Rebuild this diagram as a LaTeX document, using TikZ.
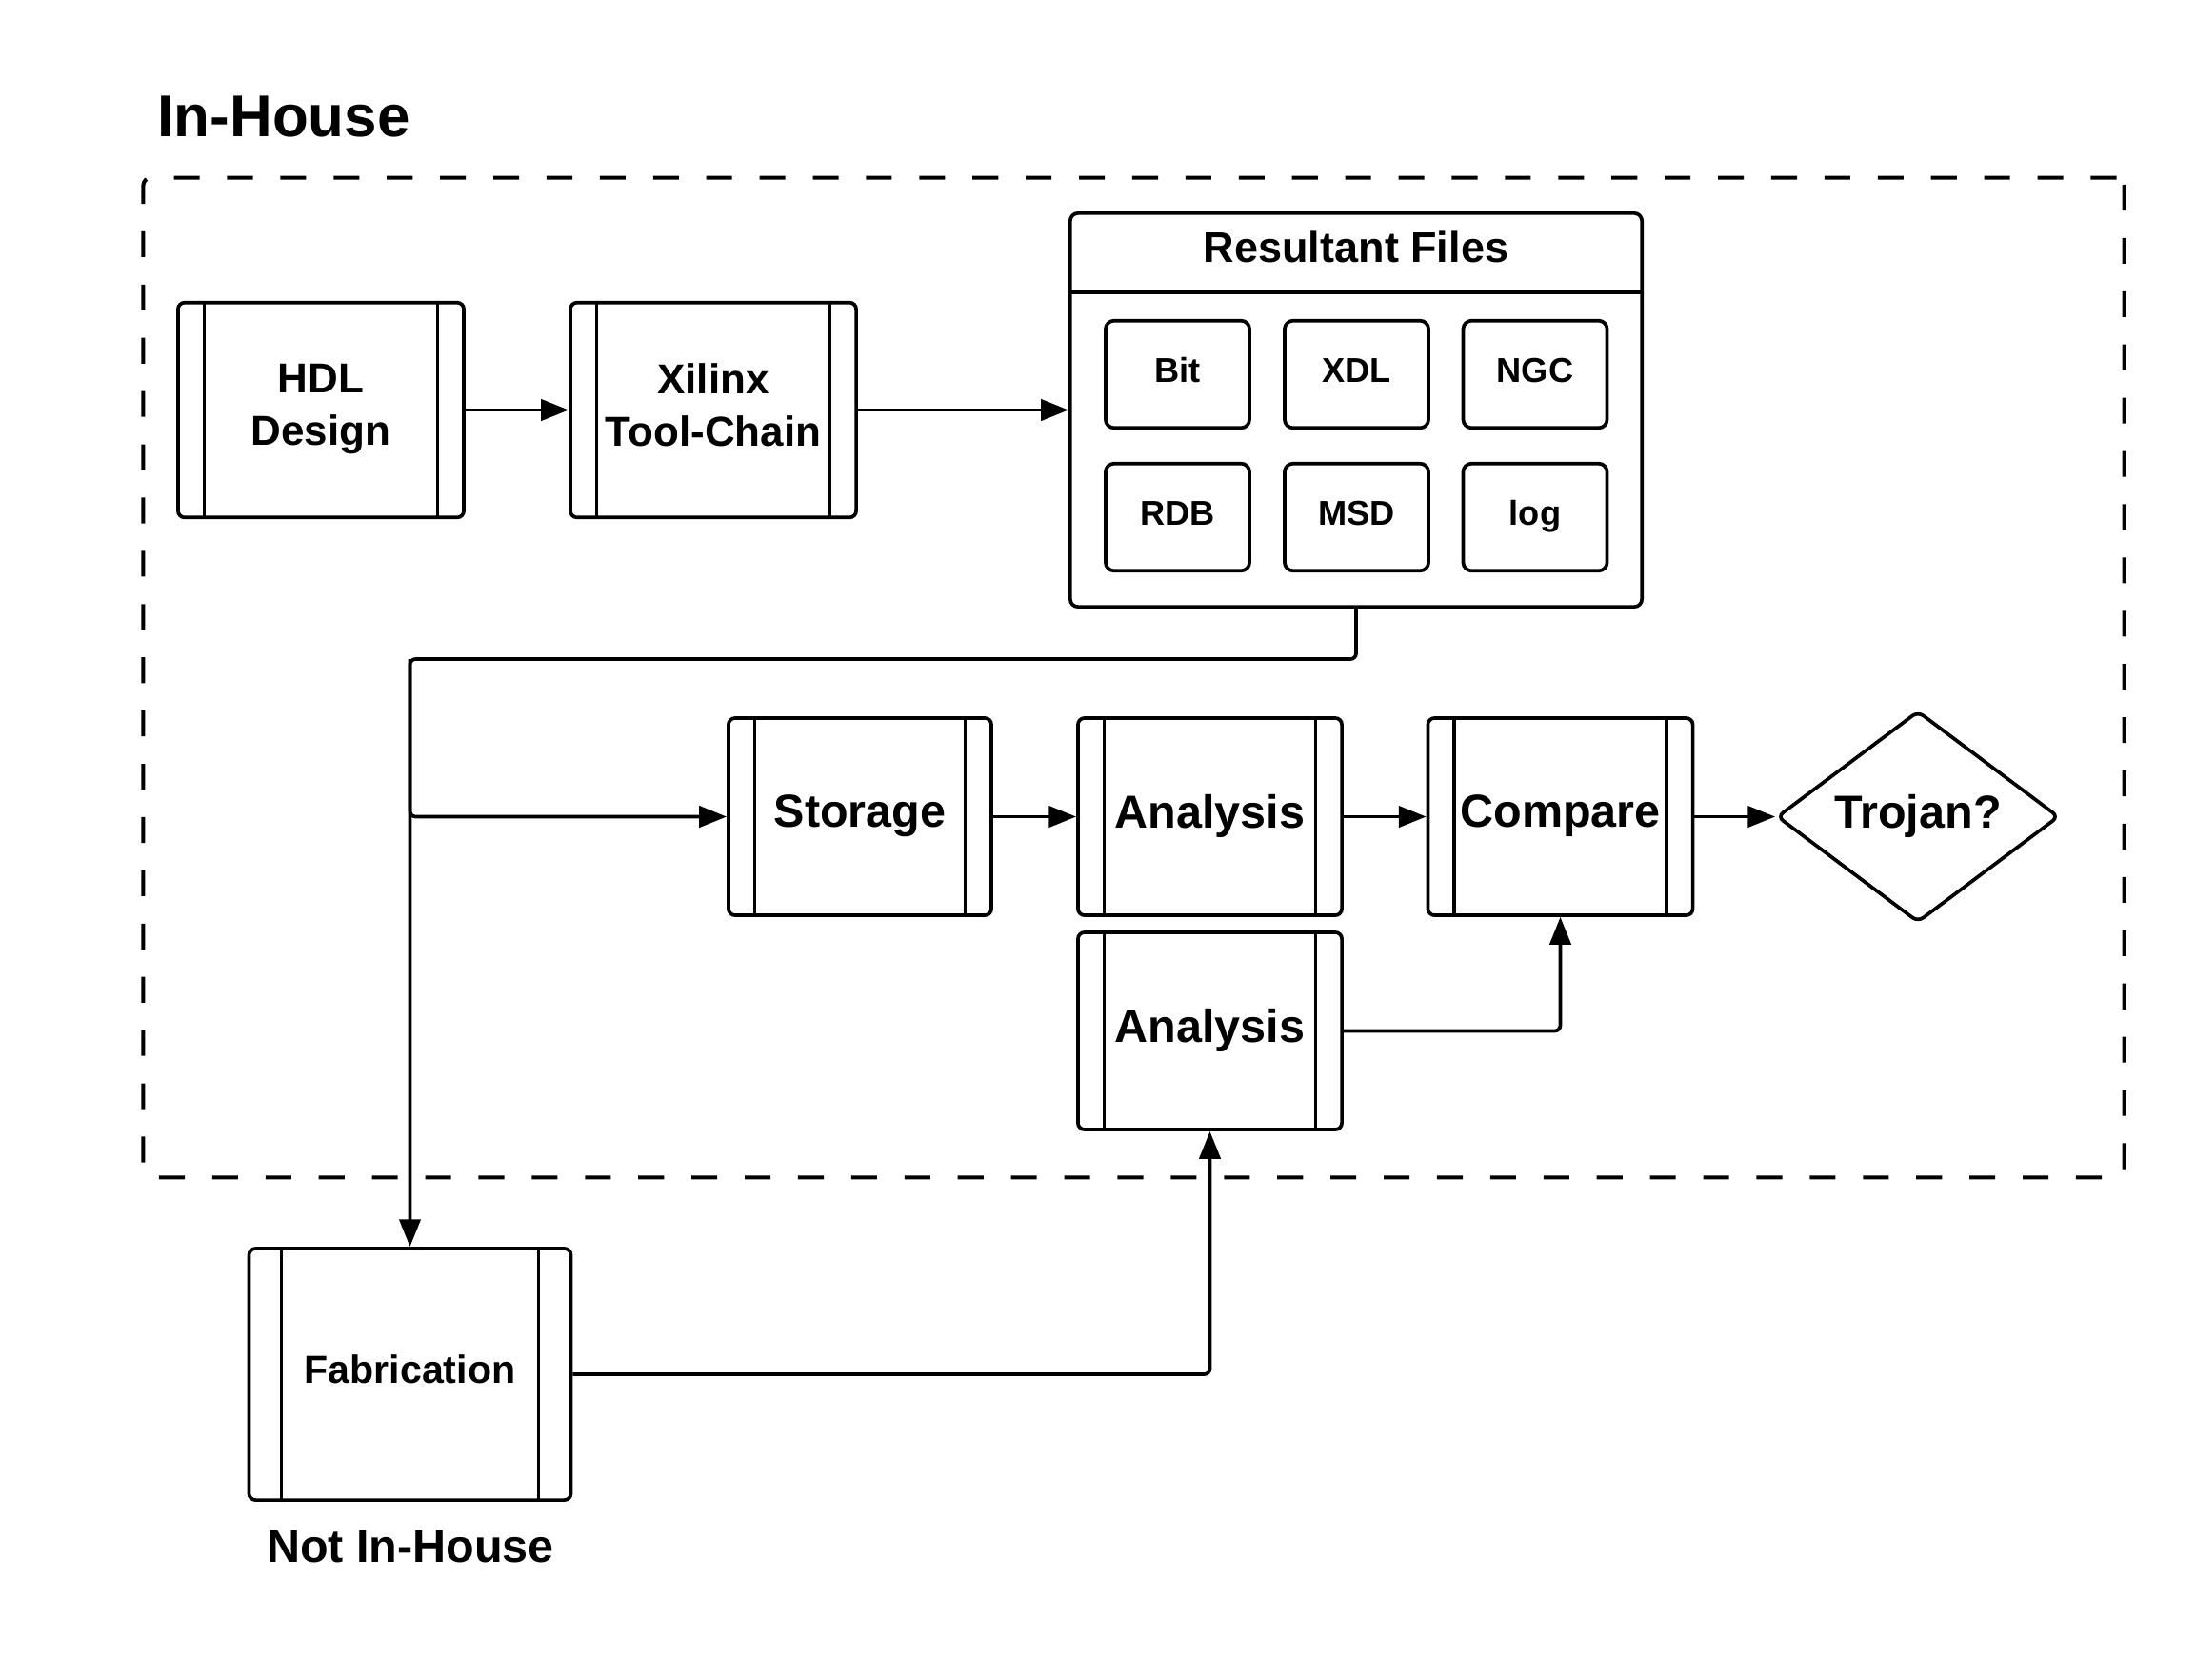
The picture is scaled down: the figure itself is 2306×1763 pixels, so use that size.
\documentclass[tikz,border=0pt]{standalone}
\usepackage{fontspec}
\setmainfont{Liberation Sans}
\usetikzlibrary{arrows.meta,shapes.geometric,calc}
\begin{document}
\begin{tikzpicture}[x=0.01cm,y=-0.01cm,
  ln/.style={line width=1.05pt},
  arr/.style={ln, -{Triangle[length=8.2pt,width=6.3pt]}},
  elbow/.style={arr, rounded corners=1.7pt},
  proc/.style={draw, ln, rounded corners=2pt, inner sep=0pt, align=center,
    path picture={\draw[ln]
      ([xshift=#1]path picture bounding box.north west) -- ([xshift=#1]path picture bounding box.south west)
      ([xshift=-#1]path picture bounding box.north east) -- ([xshift=-#1]path picture bounding box.south east);}},
  proc/.default=0.275cm,
  bigtxt/.style={font=\bfseries\fontsize{13.8}{16.5}\selectfont, text depth=0.33em},
  medtxt/.style={font=\bfseries\fontsize{12.5}{15.6}\selectfont, text depth=0.3em},
  filebox/.style={draw, ln, rounded corners=2.5pt, inner sep=0pt,
    minimum width=1.51cm, minimum height=1.125cm,
    font=\bfseries\fontsize{10.3}{12}\selectfont, text height=0.72em, text depth=0.25em},
  frame/.style={draw, line width=1.15pt, dash pattern=on 7.7pt off 8.2pt,
    rounded corners=2.3pt, inner sep=0pt}
]
\fill[white] (0,0) rectangle (2306,1763);
\useasboundingbox (0,0) rectangle (2306,1763);

% titles
\node[anchor=base west, inner sep=0pt, font=\bfseries\fontsize{17.6}{20}\selectfont] (inhouse) at (165,143) {In-House};
\node[frame, minimum width=20.79cm, minimum height=10.49cm] (house) at (1190.5,711.5) {};

% top row
\node[proc, medtxt, minimum width=3.00cm, minimum height=2.255cm] (hdl) at (337,430.5) {HDL\\Design};
\node[proc, medtxt, minimum width=3.00cm, minimum height=2.255cm] (xil) at (749,430.5) {Xilinx\\Tool-Chain};

% resultant files container
\node[draw, ln, rounded corners=2.3pt, inner sep=0pt, minimum width=6.00cm, minimum height=4.13cm] (res) at (1424,430.5) {};
\coordinate (hdr) at (1424,307);
\draw[ln] (res.west |- hdr) -- (res.east |- hdr);
\node[font=\bfseries\fontsize{12.8}{15}\selectfont] (restitle) at (1424,259) {Resultant Files};
\node[filebox] (bit) at (1236.5,393) {Bit};
\node[filebox] (xdl) at (1424.5,393) {XDL};
\node[filebox] (ngc) at (1612,393) {NGC};
\node[filebox] (rdb) at (1236.5,543) {RDB};
\node[filebox] (msd) at (1424.5,543) {MSD};
\node[filebox] (log) at (1612,543) {log};

% middle row
\node[proc, bigtxt, minimum width=2.76cm, minimum height=2.07cm] (sto) at (903,857.5) {Storage};
\node[proc, bigtxt, minimum width=2.77cm, minimum height=2.07cm] (an1) at (1270.5,857.5) {Analysis};
\node[proc, bigtxt, minimum width=2.78cm, minimum height=2.07cm] (cmp) at (1638.5,857.5) {Compare};
\node[draw, ln, diamond, aspect=1.333, rounded corners=2pt, inner sep=0pt,
      minimum width=2.96cm, minimum height=2.22cm, bigtxt] (troj) at (2014,857.5) {Trojan?};
\node[proc, bigtxt, minimum width=2.77cm, minimum height=2.07cm] (an2) at (1270.5,1082.5) {Analysis};

% fabrication
\node[proc=0.34cm, font=\bfseries\fontsize{11.7}{14}\selectfont, text depth=0.3em, minimum width=3.38cm, minimum height=2.64cm] (fab) at (430.5,1443) {Fabrication};
\node[anchor=base, inner sep=0pt, font=\bfseries\fontsize{13.8}{16.5}\selectfont] (nih) at (431,1640) {Not In-House};

% connectors
\coordinate (jn) at (430.5,692);
\draw[arr] (hdl.east) -- (xil.west);
\draw[arr] (xil.east) -- (res.west);
\draw[elbow] (res.south) |- (jn) -- (fab.north);
\draw[elbow] (jn) |- (sto.west);
\draw[arr] (sto.east) -- (an1.west);
\draw[arr] (an1.east) -- (cmp.west);
\draw[arr] (cmp.east) -- (troj.west);
\draw[elbow] (an2.east) -| (cmp.south);
\draw[elbow] (fab.east) -| (an2.south);
\end{tikzpicture}
\end{document}
